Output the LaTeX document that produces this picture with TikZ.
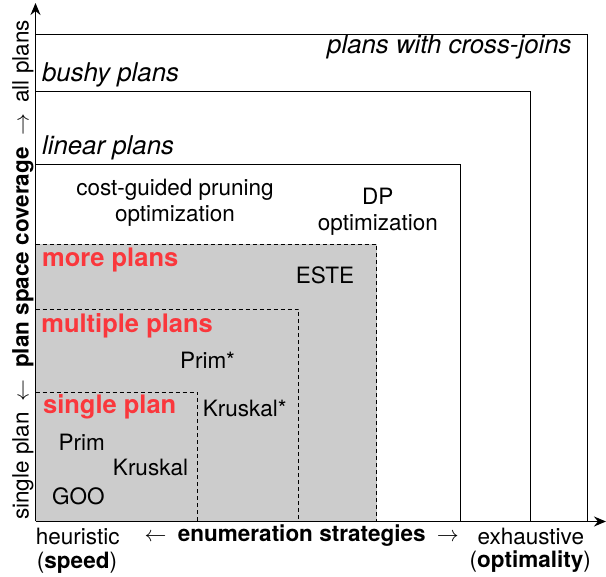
\documentclass[tikz,border=0pt]{standalone}
\usepackage{fontspec}
\setmainfont{TeX Gyre Heros}
\usetikzlibrary{arrows.meta}
\definecolor{redlbl}{RGB}{250,55,60}
\definecolor{planshade}{RGB}{204,204,204}
\tikzset{
  axisline/.style={line width=0.8pt,-{Stealth[length=6pt,width=5pt]}},
  solidbox/.style={line width=0.55pt},
  dashbox/.style={line width=0.55pt,dash pattern=on 2pt off 1.5pt},
  txt/.style={inner sep=0pt,font=\fontsize{11.25}{12.8}\selectfont},
  itlbl/.style={inner sep=0pt,font=\fontsize{12.9}{15}\selectfont\itshape},
  redlabel/.style={inner sep=0pt,text=redlbl,font=\fontsize{12.75}{15}\selectfont\bfseries},
}
\begin{document}
\begin{tikzpicture}[x=0.5pt,y=-0.5pt]
\useasboundingbox (0,0) rectangle (606,577);
\coordinate (O) at (35.5,521.5);
\coordinate (ytip) at (35.5,3);
\coordinate (xtip) at (606,521.5);
% shaded region
\fill[planshade] (35.5,244.5) rectangle (376.5,521.5);
% solid boxes
\draw[solidbox] (35.5,34.5) -| (587.5,521.5);
\draw[solidbox] (35.5,91.5) -| (530.5,521.5);
\draw[solidbox] (35.5,164.5) -| (460.5,521.5);
% dashed boxes
\draw[dashbox] (35.5,244.5) -| (376.5,521.5);
\draw[dashbox] (35.5,309.5) -| (298.5,521.5);
\draw[dashbox] (35.5,392.5) -| (197.5,521.5);
% axes
\draw[axisline] (O) -- (ytip);
\draw[axisline] (O) -- (xtip);
% labels
\node[itlbl,anchor=east] (cj) at (572,47) {plans with cross-joins};
\node[itlbl,anchor=west] (bp) at (41.7,75) {bushy plans};
\node[itlbl,anchor=west] (lp) at (41.7,148) {linear plans};
\node[txt,align=center] (cg) at (175,202.5) {cost-guided pruning\\optimization};
\node[txt,align=center] (dp) at (377.8,212) {DP\\optimization};
\node[redlabel,anchor=west] (mp) at (41.7,259.5) {more plans};
\node[txt] (este) at (325,275) {ESTE};
\node[redlabel,anchor=west] (mul) at (41,325.5) {multiple plans};
\node[txt] (primstar) at (207.5,360.5) {Prim*};
\node[redlabel,anchor=west] (sp) at (42.7,406.5) {single plan};
\node[txt] (krstar) at (244.7,408.7) {Kruskal*};
\node[txt] (prim) at (81.7,442) {Prim};
\node[txt] (kr) at (150.5,467.7) {Kruskal};
\node[txt] (goo) at (78.3,496) {GOO};
\node[txt] (heu) at (77.7,536) {heuristic};
\node[txt] (spd) at (77,562.5) {(\textbf{speed})};
\node[txt] (enum) at (301.7,536) {$\leftarrow$\enspace\textbf{enumeration strategies}\enspace$\rightarrow$};
\node[txt] (exh) at (530.8,536) {exhaustive};
\node[txt] (opt) at (530.3,562) {(\textbf{optimality})};
\node[txt,rotate=90] (ylab) at (23,270) {single plan\enspace$\leftarrow$\enspace\textbf{plan space coverage}\enspace$\rightarrow$\enspace all plans};
\end{tikzpicture}
\end{document}
